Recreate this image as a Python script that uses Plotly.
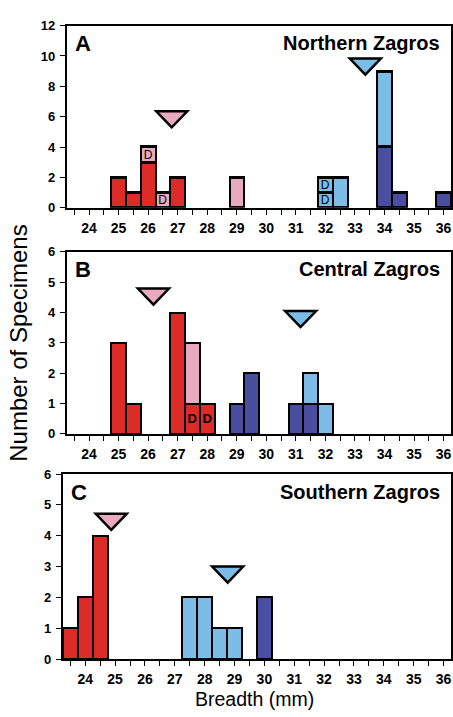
import plotly.graph_objects as go

# ---------------- data ----------------
RED = "#DD2C27"
PINK = "#E9A9BF"
LBLUE = "#7BBDE6"
DBLUE = "#4A4EA0"

# Panel A - Northern Zagros : (series color, bins, counts, label)
a_series = [
    (DBLUE, [34, 34.5, 36], [4, 1, 1], ""),
    (RED, [25, 25.5, 26, 27], [2, 1, 3, 2], ""),
    (LBLUE, [32.5, 34], [2, 5], ""),
    (PINK, [29], [2], ""),
    (PINK, [26, 26.5], [1, 1], "D"),
    (LBLUE, [32], [1], "D"),
    (LBLUE, [32], [1], "D"),
]
# Panel B - Central Zagros
b_series = [
    (RED, [25, 25.5, 27], [3, 1, 4], ""),
    (RED, [27.5, 28], [1, 1], "D"),
    (PINK, [27.5], [2], ""),
    (DBLUE, [29, 29.5, 31, 31.5], [1, 2, 1, 1], ""),
    (LBLUE, [31.5, 32], [1, 1], ""),
]
# Panel C - Southern Zagros
c_series = [
    (RED, [23.5, 24, 24.5], [1, 2, 4], ""),
    (LBLUE, [27.5, 28, 28.5, 29], [2, 2, 1, 1], ""),
    (DBLUE, [30], [2], ""),
]

# mean markers (triangles): breadth, height of tip, colour
a_means = [(26.8, 5.3, PINK), (33.35, 8.77, LBLUE)]
b_means = [(26.18, 4.26, PINK), (31.16, 3.52, LBLUE)]
c_means = [(24.87, 4.19, PINK), (28.77, 2.48, LBLUE)]

panel_letters = ["A", "B", "C"]
panel_titles = ["Northern Zagros", "Central Zagros", "Southern Zagros"]
y_ranges = [12, 6, 6]
y_dticks = [2, 1, 1]
x_tick_vals = list(range(24, 37))

# ---------------- figure ----------------
W, H = 453, 717
FONT = "Liberation Sans, Arial, Helvetica, sans-serif"

# pixel geometry of panels (left, right, top, bottom)
panels_px = [(67, 452, 19, 205), (67, 452, 250, 436), (63, 452, 477, 666)]

fig = go.Figure()
all_series = [a_series, b_series, c_series]
all_means = [a_means, b_means, c_means]

for i, series in enumerate(all_series):
    xa = "x" if i == 0 else f"x{i+1}"
    ya = "y" if i == 0 else f"y{i+1}"
    for color, bins, counts, label in series:
        fig.add_trace(go.Bar(
            x=bins, y=counts, width=0.5, xaxis=xa, yaxis=ya,
            marker=dict(color=color, line=dict(color="black", width=2.2)),
            text=[label] * len(bins) if label else None,
            textposition="inside" if label else "none",
            insidetextanchor="middle",
            constraintext="none",
            textangle=0,
            textfont=dict(family=FONT, size=12 if i == 0 else 13, color="black",
                          weight="normal" if i == 0 else "bold"),
            showlegend=False, hoverinfo="skip",
        ))
    for mx, my, mc in all_means[i]:
        fig.add_shape(
            type="path", xref=xa, yref=ya,
            xsizemode="pixel", ysizemode="pixel",
            xanchor=mx, yanchor=my,
            path="M0,0 L-15.5,16 L15.5,16 Z",
            fillcolor=mc, line=dict(color="black", width=2.5),
        )

layout = dict(
    width=W, height=H, margin=dict(l=0, r=0, t=0, b=0),
    paper_bgcolor="white", plot_bgcolor="white",
    barmode="stack", bargap=0,
    font=dict(family=FONT, color="black"),
    showlegend=False,
)
annotations = []
for i, (l, r, t, b) in enumerate(panels_px):
    sx = "" if i == 0 else str(i + 1)
    layout[f"xaxis{sx}"] = dict(
        domain=[l / W, r / W], anchor=f"y{sx}", range=[23.25, 36.25],
        tickmode="array", tickvals=x_tick_vals, ticks="outside", ticklen=5,
        tickwidth=1, tickcolor="black",
        minor=dict(dtick=0.5, tick0=23.5, ticks="outside", ticklen=5, tickwidth=1, tickcolor="black"),
        showline=True, linecolor="black", linewidth=2, mirror=True,
        showgrid=False, zeroline=False,
        tickfont=dict(size=14, weight="bold", family=FONT), ticklabelstandoff=1,
        fixedrange=True,
    )
    layout[f"yaxis{sx}"] = dict(
        domain=[1 - b / H, 1 - t / H], anchor=f"x{sx}", range=[0, y_ranges[i]],
        dtick=y_dticks[i], ticks="outside", ticklen=5, tickwidth=1, tickcolor="black",
        showline=True, linecolor="black", linewidth=2, mirror=True,
        showgrid=False, zeroline=False,
        tickfont=dict(size=13, weight="bold", family=FONT), ticklabelstandoff=2,
        fixedrange=True,
    )
    xd = f"x{sx} domain"
    yd = f"y{sx} domain"
    annotations.append(dict(
        text=panel_letters[i], xref=xd, yref=yd, x=0.015, y=0.90,
        xanchor="left", yanchor="middle", showarrow=False,
        font=dict(size=22, weight="bold", family=FONT),
    ))
    annotations.append(dict(
        text=panel_titles[i], xref=xd, yref=yd, x=0.977, y=0.905,
        xanchor="right", yanchor="middle", showarrow=False,
        font=dict(size=20, weight="bold", family=FONT),
    ))

annotations.append(dict(
    text="Number of Specimens", xref="paper", yref="paper",
    x=19 / W, y=1 - 343 / H, textangle=-90, showarrow=False,
    xanchor="center", yanchor="middle", font=dict(size=24, family=FONT),
))
annotations.append(dict(
    text="Breadth (mm)", xref="paper", yref="paper",
    x=255 / W, y=1 - 707 / H, showarrow=False,
    xanchor="center", yanchor="middle", font=dict(size=19.5, family=FONT),
))
layout["annotations"] = annotations
fig.update_layout(**layout)

fig.write_html("out.html")
